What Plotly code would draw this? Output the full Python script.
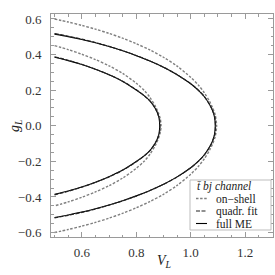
import plotly.graph_objects as go

# ---- data (upper / lower branches) ----
V_OUT = [0.50, 0.55, 0.60, 0.65, 0.70, 0.75, 0.80, 0.85, 0.90, 0.95, 1.00, 1.03, 1.05, 1.07, 1.08, 1.087, 1.090]
FULL_OUT_UP = [0.515, 0.501, 0.485, 0.466, 0.445, 0.421, 0.394, 0.364, 0.329, 0.287, 0.236, 0.196, 0.163, 0.117, 0.085, 0.050, 0.000]
FULL_OUT_LO = [-0.515, -0.501, -0.485, -0.466, -0.445, -0.421, -0.394, -0.364, -0.329, -0.287, -0.236, -0.196, -0.163, -0.117, -0.085, -0.050, 0.000]

V_QF_OUT = [0.50, 0.55, 0.60, 0.65, 0.70, 0.75, 0.80, 0.85, 0.90, 0.95, 1.00, 1.03, 1.05, 1.07, 1.08, 1.088, 1.091]
QF_OUT_UP = [0.518, 0.503, 0.487, 0.468, 0.446, 0.422, 0.395, 0.364, 0.329, 0.287, 0.236, 0.197, 0.164, 0.118, 0.086, 0.051, 0.000]
QF_OUT_LO = [-0.518, -0.503, -0.487, -0.468, -0.446, -0.422, -0.395, -0.364, -0.329, -0.287, -0.236, -0.197, -0.164, -0.118, -0.086, -0.051, 0.000]

V_OS_OUT = [0.50, 0.55, 0.60, 0.65, 0.70, 0.75, 0.80, 0.85, 0.90, 0.95, 1.00, 1.03, 1.05, 1.07, 1.08, 1.09, 1.095]
OS_OUT_UP = [0.600, 0.583, 0.564, 0.543, 0.519, 0.492, 0.461, 0.426, 0.385, 0.335, 0.272, 0.225, 0.185, 0.135, 0.102, 0.060, 0.000]
OS_OUT_LO = [-0.600, -0.583, -0.564, -0.543, -0.519, -0.492, -0.461, -0.426, -0.385, -0.335, -0.272, -0.225, -0.185, -0.135, -0.102, -0.060, 0.000]

V_IN = [0.50, 0.55, 0.60, 0.65, 0.70, 0.75, 0.80, 0.83, 0.85, 0.87, 0.88, 0.884, 0.886]
FULL_IN_UP = [0.385, 0.366, 0.344, 0.317, 0.286, 0.249, 0.201, 0.168, 0.140, 0.097, 0.063, 0.040, 0.000]
FULL_IN_LO = [-0.385, -0.366, -0.344, -0.317, -0.286, -0.249, -0.201, -0.168, -0.140, -0.097, -0.063, -0.040, 0.000]

V_QF_IN = [0.50, 0.55, 0.60, 0.65, 0.70, 0.75, 0.80, 0.83, 0.85, 0.87, 0.88, 0.885, 0.887]
QF_IN_UP = [0.388, 0.368, 0.345, 0.318, 0.287, 0.250, 0.202, 0.168, 0.140, 0.097, 0.063, 0.040, 0.000]
QF_IN_LO = [-0.388, -0.368, -0.345, -0.318, -0.287, -0.250, -0.202, -0.168, -0.140, -0.097, -0.063, -0.040, 0.000]

V_OS_IN = [0.50, 0.55, 0.60, 0.65, 0.70, 0.75, 0.80, 0.83, 0.85, 0.87, 0.88, 0.888, 0.891]
OS_IN_UP = [0.450, 0.428, 0.402, 0.372, 0.337, 0.294, 0.239, 0.198, 0.160, 0.110, 0.077, 0.040, 0.000]
OS_IN_LO = [-0.450, -0.428, -0.402, -0.372, -0.337, -0.294, -0.239, -0.198, -0.160, -0.110, -0.077, -0.040, 0.000]

X_TICKS = [0.6, 0.8, 1.0, 1.2]
X_TICKTEXT = ["0.6", "0.8", "1.0", "1.2"]
Y_TICKS = [-0.6, -0.4, -0.2, 0.0, 0.2, 0.4, 0.6]
Y_TICKTEXT = ["\u22120.6", "\u22120.4", "\u22120.2", "0.0", "0.2", "0.4", "0.6"]

LEGEND_TITLE = "t\u0304 bj channel"
LEGEND_LABELS = ["on\u2212shell", "quadr. fit", "full ME"]

FONT = "Liberation Serif"


def closed(v, up, lo):
    xs = list(v) + list(v[-2::-1])
    ys = list(up) + list(lo[-2::-1])
    return xs, ys


STY_OS = dict(color="#7f7f7f", width=1.4, dash="2.5px,1.6px")
STY_QF = dict(color="#222222", width=1.2, dash="4px,1.5px")
STY_FULL = dict(color="#000000", width=1.1)

fig = go.Figure()
curves = [
    (V_OS_OUT, OS_OUT_UP, OS_OUT_LO, STY_OS),
    (V_OS_IN, OS_IN_UP, OS_IN_LO, STY_OS),
    (V_OUT, FULL_OUT_UP, FULL_OUT_LO, STY_FULL),
    (V_IN, FULL_IN_UP, FULL_IN_LO, STY_FULL),
    (V_QF_OUT, QF_OUT_UP, QF_OUT_LO, STY_QF),
    (V_QF_IN, QF_IN_UP, QF_IN_LO, STY_QF),
]
for v, up, lo, sty in curves:
    xs, ys = closed(v, up, lo)
    fig.add_trace(go.Scatter(x=xs, y=ys, mode="lines", line=dict(shape="spline", smoothing=0.8, **sty),
                             showlegend=False, hoverinfo="skip"))

axis_common = dict(
    showgrid=False, zeroline=False, showline=True, linecolor="#9a9a9a", linewidth=1,
    mirror="allticks", ticks="inside", ticklen=5, tickwidth=1, tickcolor="#9a9a9a",
    tickfont=dict(family=FONT, size=13, color="#333333"),
    minor=dict(ticks="inside", ticklen=2.5, tickcolor="#9a9a9a", dtick=0.05, showgrid=False),
)

fig.update_xaxes(range=[0.487, 1.302], tickvals=X_TICKS, ticktext=X_TICKTEXT, ticklabelstandoff=3, **axis_common)
fig.update_yaxes(range=[-0.625, 0.628], tickvals=Y_TICKS, ticktext=Y_TICKTEXT, ticklabelstandoff=6, **axis_common)


# legend box drawn manually (pixel layout of the reference)
def px(xp):
    return (xp - 51) / 222.0


def py(yp):
    return (237 - yp) / 223.0


shapes = [dict(type="rect", xref="paper", yref="paper", x0=px(190), x1=px(271), y0=py(230), y1=py(180),
               line=dict(color="#bdbdbd", width=1), fillcolor="white", layer="above")]
rows = [198.5, 211, 223.5]
styles = [STY_OS, STY_QF, STY_FULL]
annotations = [dict(text="<i>" + LEGEND_TITLE + "</i>", xref="paper", yref="paper", x=px(195), y=py(186.5),
                    xanchor="left", yanchor="middle", showarrow=False,
                    font=dict(family=FONT, size=11.5, color="#222"))]
for r, s, lab in zip(rows, styles, LEGEND_LABELS):
    shapes.append(dict(type="line", xref="paper", yref="paper", x0=px(196), x1=px(207), y0=py(r), y1=py(r),
                       line=s, layer="above"))
    annotations.append(dict(text=lab, xref="paper", yref="paper", x=px(214), y=py(r),
                            xanchor="left", yanchor="middle", showarrow=False,
                            font=dict(family=FONT, size=11.5, color="#222")))

annotations.append(dict(text="<i>g</i><sub><i>L</i></sub>", xref="paper", yref="paper", x=px(15), y=py(126),
                        xanchor="center", yanchor="middle", textangle=-90, showarrow=False,
                        font=dict(family=FONT, size=14, color="#222")))
annotations.append(dict(text="<i>V</i><sub><i>L</i></sub>", xref="paper", yref="paper", x=px(164), y=py(261),
                        xanchor="center", yanchor="middle", showarrow=False,
                        font=dict(family=FONT, size=14, color="#222")))

fig.update_layout(
    width=275, height=275,
    margin=dict(l=51, r=2, t=14, b=38),
    paper_bgcolor="white", plot_bgcolor="white",
    shapes=shapes, annotations=annotations, showlegend=False,
)

fig.write_html("out.html", config={"displayModeBar": False},
               post_script="document.body.style.margin='0px';document.body.style.overflow='hidden';")
